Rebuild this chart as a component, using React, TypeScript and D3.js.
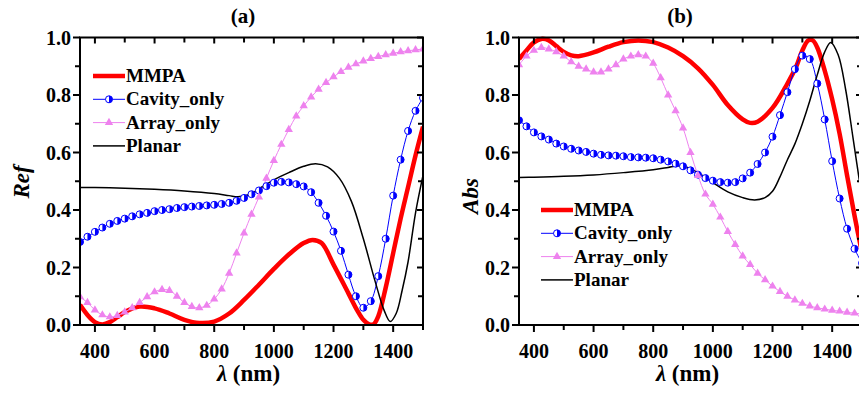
import React from 'react';
import * as d3 from 'd3';

const W = 859;
const H = 393;
const FONT = '"Liberation Serif", "Times New Roman", serif';

// x grid for the series drawn with markers (nm)
const gridWl = [
  350, 375, 400, 425, 450, 475, 500, 525, 550, 575, 600, 625, 650, 675, 700, 725,
  750, 775, 800, 825, 850, 875, 900, 925, 950, 975, 1000, 1025, 1050, 1075, 1100,
  1125, 1150, 1175, 1200, 1225, 1250, 1275, 1300, 1325, 1350, 1375, 1400, 1425,
  1450, 1475, 1500,
];

// ---- panel (a) : reflection ----
const refMmpaWl = [350, 375, 400, 425, 450, 475, 500, 550, 600, 650, 700, 750, 800, 850, 900, 950, 1000, 1050, 1100, 1130, 1160, 1200, 1250, 1280, 1300, 1320, 1335, 1350, 1375, 1400, 1425, 1450, 1475, 1500];
const refMmpa = [0.07, 0.035, 0.01, 0.002, 0.01, 0.027, 0.045, 0.064, 0.058, 0.04, 0.018, 0.007, 0.012, 0.04, 0.087, 0.14, 0.195, 0.245, 0.285, 0.296, 0.285, 0.21, 0.11, 0.05, 0.018, 0.002, 0.003, 0.03, 0.13, 0.25, 0.37, 0.48, 0.59, 0.69];

const refCavity = [
  0.289, 0.307, 0.324, 0.339, 0.352, 0.362, 0.37, 0.378, 0.385, 0.39, 0.396, 0.4, 0.403, 0.407, 0.41, 0.412,
  0.414, 0.416, 0.418, 0.421, 0.425, 0.432, 0.442, 0.455, 0.468, 0.483, 0.495, 0.498, 0.496, 0.49, 0.482,
  0.462, 0.425, 0.38, 0.325, 0.258, 0.175, 0.1, 0.06, 0.083, 0.17, 0.3, 0.45, 0.575,
  0.675, 0.745, 0.79,
];

const refArray = [
  0.098, 0.078, 0.052, 0.035, 0.028, 0.033, 0.045, 0.06, 0.078, 0.098, 0.115, 0.123, 0.12, 0.1, 0.078, 0.064,
  0.06, 0.068, 0.09, 0.125, 0.18, 0.25, 0.32, 0.385, 0.445, 0.51, 0.572, 0.628, 0.68, 0.727, 0.762,
  0.793, 0.82, 0.843, 0.863, 0.881, 0.896, 0.908, 0.918, 0.927, 0.934, 0.94, 0.945, 0.95,
  0.954, 0.957, 0.96,
];

const refPlanarWl = [350, 400, 500, 600, 700, 800, 850, 880, 920, 960, 1000, 1050, 1100, 1140, 1180, 1220, 1260, 1300, 1340, 1370, 1390, 1410, 1430, 1450, 1475, 1500];
const refPlanar = [0.478, 0.478, 0.476, 0.472, 0.466, 0.457, 0.45, 0.446, 0.455, 0.48, 0.505, 0.53, 0.552, 0.561, 0.55, 0.51, 0.43, 0.3, 0.15, 0.05, 0.012, 0.04, 0.12, 0.22, 0.39, 0.52];

// ---- panel (b) : absorption ----
const absMmpaWl = [350, 375, 400, 425, 450, 475, 500, 525, 550, 600, 650, 700, 750, 800, 850, 900, 950, 1000, 1050, 1100, 1125, 1150, 1200, 1250, 1280, 1300, 1320, 1335, 1350, 1375, 1400, 1425, 1450, 1475, 1500];
const absMmpa = [0.925, 0.955, 0.983, 0.995, 0.99, 0.97, 0.95, 0.938, 0.935, 0.948, 0.968, 0.984, 0.99, 0.984, 0.965, 0.935, 0.893, 0.835, 0.765, 0.715, 0.703, 0.707, 0.755, 0.84, 0.9, 0.955, 0.99, 0.99, 0.965, 0.885, 0.785, 0.665, 0.52, 0.38, 0.25];

const absCavity = [
  0.712, 0.691, 0.67, 0.656, 0.645, 0.631, 0.621, 0.613, 0.607, 0.602, 0.596, 0.592, 0.59, 0.589, 0.587, 0.584,
  0.583, 0.582, 0.58, 0.575, 0.569, 0.561, 0.552, 0.538, 0.523, 0.511, 0.502, 0.497, 0.495, 0.497, 0.51,
  0.53, 0.56, 0.6, 0.655, 0.73, 0.81, 0.89, 0.937, 0.925, 0.84, 0.715, 0.57, 0.44,
  0.335, 0.265, 0.215,
];

const absArray = [
  0.905, 0.935, 0.955, 0.965, 0.96, 0.95, 0.935, 0.915, 0.9, 0.89, 0.88, 0.88, 0.89, 0.905, 0.925, 0.935,
  0.94, 0.935, 0.91, 0.86, 0.8, 0.745, 0.685, 0.6, 0.52, 0.455, 0.42, 0.375, 0.325, 0.28, 0.24,
  0.21, 0.18, 0.157, 0.135, 0.116, 0.1, 0.087, 0.075, 0.066, 0.06, 0.055, 0.051, 0.048,
  0.044, 0.041, 0.038,
];

const absPlanarWl = [350, 400, 500, 600, 700, 800, 850, 880, 910, 950, 1000, 1050, 1100, 1140, 1175, 1200, 1225, 1250, 1275, 1300, 1325, 1350, 1375, 1395, 1420, 1445, 1470, 1500];
const absPlanar = [0.513, 0.514, 0.517, 0.522, 0.53, 0.54, 0.548, 0.553, 0.55, 0.53, 0.495, 0.463, 0.443, 0.435, 0.443, 0.465, 0.515, 0.575, 0.63, 0.7, 0.78, 0.87, 0.95, 0.983, 0.94, 0.82, 0.65, 0.44];

const legendNames = ['MMPA', 'Cavity_only', 'Array_only', 'Planar'];
const xMajor = [400, 600, 800, 1000, 1200, 1400];
const xMinor = [500, 700, 900, 1100, 1300, 1500];
const yMajor = [0, 0.2, 0.4, 0.6, 0.8, 1.0];
const yMinor = [0.1, 0.3, 0.5, 0.7, 0.9];

const RED = '#ff0000';
const BLUE = '#0000ff';
const VIOLET = '#ee82ee';

type Series = { wl: number[]; v: number[]; color: string; width: number; marker?: 'circle' | 'tri' };

const zip = (a: number[], b: number[]) => a.map((w, i) => [w, b[i]] as [number, number]);

const triPath = d3.symbol().type(d3.symbolTriangle).size(30)() as string;

function Marker({ kind, cx, cy }: { kind: 'circle' | 'tri'; cx: number; cy: number }) {
  if (kind === 'tri') {
    return <path d={triPath} transform={`translate(${cx},${cy})`} fill={VIOLET} />;
  }
  const r = 3.5;
  return (
    <g transform={`translate(${cx},${cy})`}>
      <circle r={r} fill="#fff" stroke={BLUE} strokeWidth={1} />
      <path d={`M0,${-r}A${r},${r} 0 0 1 0,${r}Z`} fill={BLUE} />
    </g>
  );
}

function Panel(props: {
  id: string; left: number; right: number; top: number; bottom: number;
  title: string; titleX: number; yLabel: string; yLabelX: number; yLabelY: number;
  series: Series[]; legX: number; legY: number;
}) {
  const { id, left, right, top, bottom, series } = props;
  const x = d3.scaleLinear().domain([350, 1500]).range([left, right]);
  const y = d3.scaleLinear().domain([0, 1]).range([bottom, top]);
  const line = d3.line<[number, number]>().x(d => x(d[0])).y(d => y(d[1])).curve(d3.curveCatmullRom.alpha(0.5));
  const tickFont = { fontFamily: FONT, fontWeight: 700, fontSize: 20 };
  const ax = '#000';

  return (
    <g>
      <defs>
        <clipPath id={`clip-${id}`}>
          <rect x={left} y={top - 2} width={right - left} height={bottom - top + 2} />
        </clipPath>
      </defs>

      <g clipPath={`url(#clip-${id})`}>
        {series.map((s, i) => (
          <path key={i} d={line(zip(s.wl, s.v)) || ''} fill="none" stroke={s.color} strokeWidth={s.width} strokeLinejoin="round" />
        ))}
        {series.map((s, i) => s.marker && s.wl.map((w, j) => (
          <Marker key={`${i}-${j}`} kind={s.marker!} cx={x(w)} cy={y(s.v[j])} />
        )))}
      </g>

      {/* frame */}
      <rect x={left} y={top} width={right - left} height={bottom - top} fill="none" stroke={ax} strokeWidth={2} />

      {/* bottom + top ticks */}
      {xMajor.map(t => (
        <g key={`xm${t}`}>
          <line x1={x(t)} x2={x(t)} y1={bottom} y2={bottom + 7} stroke={ax} strokeWidth={2} />
          <line x1={x(t)} x2={x(t)} y1={top} y2={top + 6} stroke={ax} strokeWidth={2} />
          <text x={x(t)} y={bottom + 33} textAnchor="middle" {...tickFont}>{t}</text>
        </g>
      ))}
      {xMinor.map(t => (
        <g key={`xn${t}`}>
          <line x1={x(t)} x2={x(t)} y1={bottom} y2={bottom + 5} stroke={ax} strokeWidth={2} />
          <line x1={x(t)} x2={x(t)} y1={top} y2={top + 5} stroke={ax} strokeWidth={2} />
        </g>
      ))}

      {/* left + right ticks */}
      {yMajor.map(t => (
        <g key={`ym${t}`}>
          <line x1={left - 7} x2={left} y1={y(t)} y2={y(t)} stroke={ax} strokeWidth={2} />
          <line x1={right - 6} x2={right} y1={y(t)} y2={y(t)} stroke={ax} strokeWidth={2} />
          <text x={left - 9} y={y(t) + 7} textAnchor="end" {...tickFont}>{d3.format('.1f')(t)}</text>
        </g>
      ))}
      {yMinor.map(t => (
        <g key={`yn${t}`}>
          <line x1={left - 5} x2={left} y1={y(t)} y2={y(t)} stroke={ax} strokeWidth={2} />
          <line x1={right - 5} x2={right} y1={y(t)} y2={y(t)} stroke={ax} strokeWidth={2} />
        </g>
      ))}

      {/* titles */}
      <text x={props.titleX} y={23} textAnchor="middle" fontFamily={FONT} fontWeight={700} fontSize={21}>{props.title}</text>
      <text x={(left + right) / 2 - 3} y={381} textAnchor="middle" fontFamily={FONT} fontWeight={700} fontSize={23}>
        <tspan fontStyle="italic">λ</tspan> (nm)
      </text>
      <text transform={`translate(${props.yLabelX},${props.yLabelY}) rotate(-90)`} textAnchor="middle"
        fontFamily={FONT} fontWeight={700} fontStyle="italic" fontSize={23}>{props.yLabel}</text>

      {/* legend */}
      {series.map((s, i) => {
        const cy = props.legY + i * 23.3;
        return (
          <g key={`lg${i}`}>
            <line x1={props.legX} x2={props.legX + 32} y1={cy} y2={cy} stroke={s.color} strokeWidth={s.width} />
            {s.marker && <Marker kind={s.marker} cx={props.legX + 16} cy={cy} />}
            <text x={props.legX + 33} y={cy + 6} fontFamily={FONT} fontWeight={700} fontSize={19}>{legendNames[i]}</text>
          </g>
        );
      })}
    </g>
  );
}

export default function App() {
  const refSeries: Series[] = [
    { wl: refMmpaWl, v: refMmpa, color: RED, width: 4.5 },
    { wl: gridWl, v: refCavity, color: BLUE, width: 1, marker: 'circle' },
    { wl: gridWl, v: refArray, color: VIOLET, width: 1, marker: 'tri' },
    { wl: refPlanarWl, v: refPlanar, color: '#000', width: 1.5 },
  ];
  const absSeries: Series[] = [
    { wl: absMmpaWl, v: absMmpa, color: RED, width: 4.5 },
    { wl: gridWl, v: absCavity, color: BLUE, width: 1, marker: 'circle' },
    { wl: gridWl, v: absArray, color: VIOLET, width: 1, marker: 'tri' },
    { wl: absPlanarWl, v: absPlanar, color: '#000', width: 1.5 },
  ];

  return (
    <svg width={W} height={H} style={{ position: 'absolute', left: 0, top: 0, background: '#fff' }}>
      <rect width={W} height={H} fill="#fff" />
      <Panel id="a" left={80} right={423} top={37.5} bottom={325} title="(a)" titleX={243}
        yLabel="Ref" yLabelX={29} yLabelY={182} series={refSeries} legX={93} legY={76} />
      <Panel id="b" left={519} right={862} top={37.5} bottom={325} title="(b)" titleX={680}
        yLabel="Abs" yLabelX={478} yLabelY={196} series={absSeries} legX={541} legY={210} />
    </svg>
  );
}
